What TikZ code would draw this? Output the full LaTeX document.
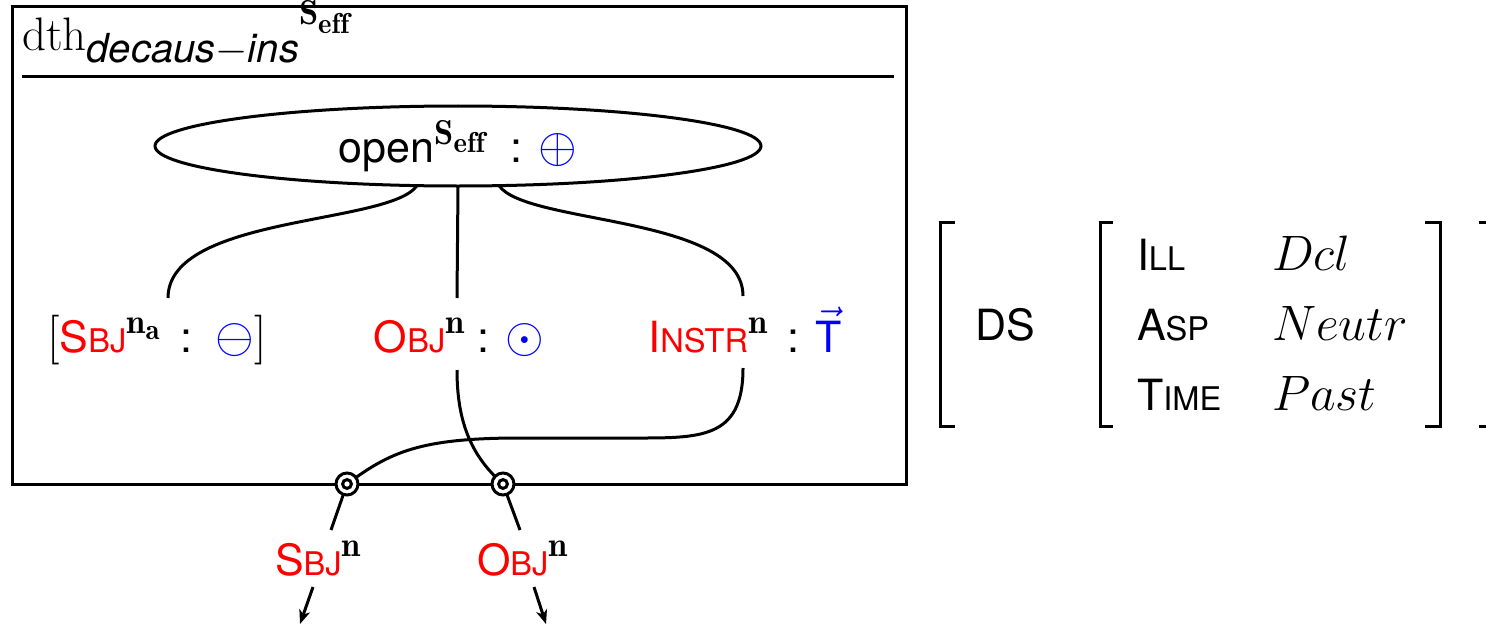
\documentclass[tikz,border=0pt]{standalone}
\usepackage{fontspec}
\setsansfont{TeX Gyre Heros}
\usepackage{graphicx}
\usetikzlibrary{shapes.geometric,arrows.meta}
\DeclareMathSizes{21.5}{24.88}{17.28}{14.4}
\newcommand\mysc[2]{#1{\fontsize{16.3}{18}\selectfont #2}}
\begin{document}
\begin{tikzpicture}[x=0.5pt,y=-0.5pt,line width=1.5pt,
  every node/.style={font=\fontsize{21.5}{25}\selectfont\sffamily,inner sep=0pt,outer sep=0pt},
  port/.style={circle,draw,fill=white,minimum size=11pt,inner sep=0pt},
  arr/.style={-{Stealth[length=7pt,width=5.5pt,inset=2pt]}},
  brk/.style={line width=1.5pt,line cap=butt}]
\useasboundingbox (0,0) rectangle (1486,626);
\clip (0,0) rectangle (1486,626);

% frame
\node[draw,anchor=north west,minimum width=447pt,minimum height=238.5pt] (frame) at (12,7) {};
\draw (22,77) -- (894,77);
\node[anchor=base west] (title) at (22,51)
  {{\rmfamily\fontsize{23.5}{26}\selectfont dth}\raisebox{-6pt}{\fontsize{20}{24}\selectfont\itshape decaus$-$ins}\raisebox{13pt}{$\scriptstyle\mathbf{S}_{\mathbf{eff}}$}};

% ellipse
\node[ellipse,draw,minimum width=303pt,minimum height=40pt] (ell) at (458,146)
  {open$^{\mathbf{S}_{\mathbf{eff}}}$ \ : \textcolor{blue}{$\oplus$}};

% middle row labels
\node[anchor=base] (sbjlab) at (157,352)
  {$[$\textcolor{red}{\mysc{S}{BJ}}$^{\mathbf{n}_{\mathbf{a}}}$\, : \,\textcolor{blue}{$\ominus$}$]$};
\node[anchor=base] (objlab) at (459,352)
  {\textcolor{red}{\mysc{O}{BJ}}$^{\mathbf{n}}$ : \textcolor{blue}{$\odot$}};
\node[anchor=base] (instrlab) at (745,352)
  {\textcolor{red}{\mysc{I}{NSTR}}$^{\mathbf{n}}$\, : \textcolor{blue}{$\vec{\mbox{T}}$}};

\coordinate (sbjtop) at (168,298);
\coordinate (objtop) at (457,298);
\coordinate (instrtop) at (743,296);
\coordinate (objbot) at (457,370);
\coordinate (instrbot) at (743,368);

\draw (ell.224) .. controls (390,225) and (168,215) .. (sbjtop);
\draw (ell.270) -- (objtop);
\draw (ell.316) .. controls (526,225) and (743,215) .. (instrtop);

% ports
\coordinate (p1c) at (347,484);
\coordinate (p2c) at (503,484);
\draw (objbot) .. controls (457,420) and (470,455) .. (p2c);
\draw (instrbot) .. controls (743,440) and (700,438) .. (630,438) -- (520,438)
      .. controls (420,438) and (390,452) .. (p1c);
\node[port] (p1) at (p1c) {};
\node[port] (p2) at (p2c) {};
\draw (p1.center) circle[radius=2.2pt];
\draw (p2.center) circle[radius=2.2pt];

\coordinate (pa) at (331,530);
\coordinate (pb) at (520,530);
\draw (p1) -- (pa);
\draw (p2) -- (pb);

% bottom labels
\node[anchor=base west] (sbjout) at (275,575) {\textcolor{red}{\mysc{S}{BJ}}$^{\mathbf{n}}$};
\node[anchor=base west] (objout) at (477,575) {\textcolor{red}{\mysc{O}{BJ}}$^{\mathbf{n}}$};
\coordinate (sa) at (313,587);
\coordinate (sb) at (300,624);
\coordinate (oa) at (534,587);
\coordinate (ob) at (546,624);
\draw[arr] (sa) -- (sb);
\draw[arr] (oa) -- (ob);

% feature structure
\draw[brk] (955,222) -- (940,222) -- (940,426) -- (955,426);
\draw[brk] (1113,222) -- (1100,222) -- (1100,426) -- (1113,426);
\draw[brk] (1425,222) -- (1440,222) -- (1440,426) -- (1425,426);
\draw[brk] (1479,222) -- (1494,222) -- (1494,426) -- (1479,426);
\node[anchor=base west] (ds) at (975,340) {DS};
\node[anchor=base west] (ill) at (1137,270) {\mysc{I}{LL}};
\node[anchor=base west] (asp) at (1137,340) {\mysc{A}{SP}};
\node[anchor=base west] (time) at (1137,410) {\mysc{T}{IME}};
\node[anchor=base west] (dcl) at (1272,270) {$Dcl$};
\node[anchor=base west] (neutr) at (1272,340) {$Neutr$};
\node[anchor=base west] (past) at (1272,410) {$Past$};
\end{tikzpicture}
\end{document}
